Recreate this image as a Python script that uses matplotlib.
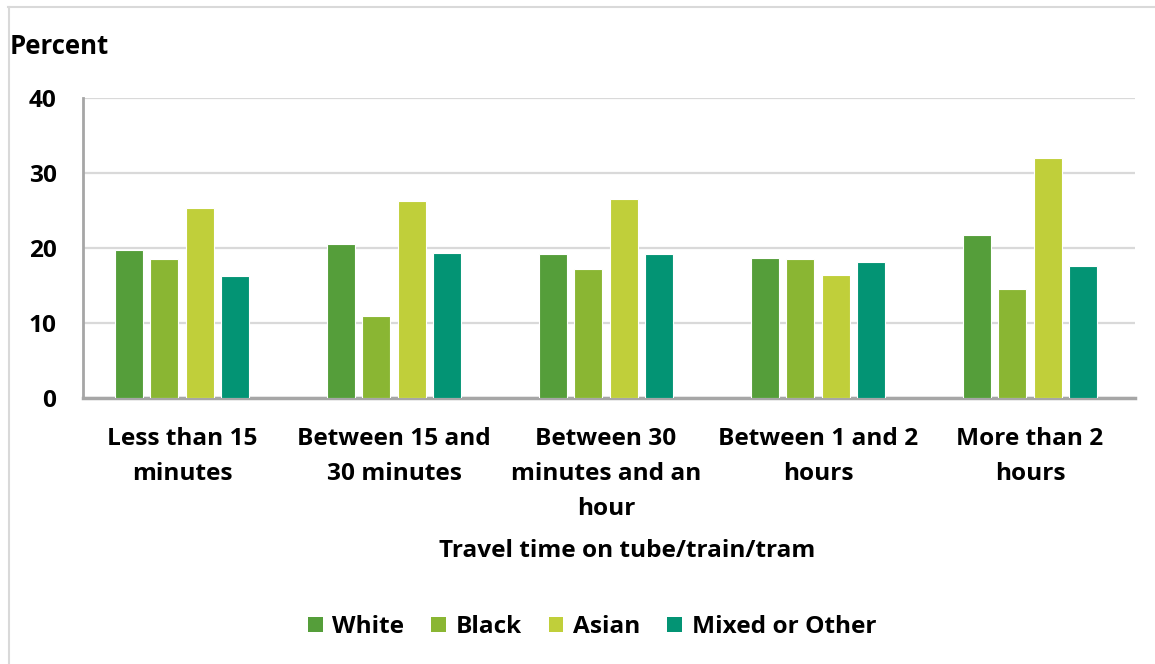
import matplotlib.pyplot as plt
import numpy as np
from matplotlib.lines import Line2D
from matplotlib.patches import Patch

plt.rcParams['font.family'] = ['Open Sans', 'DejaVu Sans']
plt.rcParams['font.weight'] = 'bold'

# data
categories = ['Less than 15\nminutes', 'Between 15 and\n30 minutes',
              'Between 30\nminutes and an\nhour', 'Between 1 and 2\nhours',
              'More than 2\nhours']
groups = ['White', 'Black', 'Asian', 'Mixed or Other']
white = [19.8, 20.6, 19.2, 18.7, 21.7]
black = [18.6, 11.0, 17.2, 18.6, 14.5]
asian = [25.3, 26.3, 26.5, 16.4, 32.0]
mixed = [16.3, 19.4, 19.2, 18.2, 17.6]
colors = ['#559E3A', '#8AB633', '#C0CF3A', '#039474']
y_ticks = [0, 10, 20, 30, 40]

series = [white, black, asian, mixed]
fs = 17.6

fig = plt.figure(figsize=(11.55, 6.64), dpi=100)
ax = fig.add_axes([83 / 1155, 1 - 398 / 664, (1135 - 83) / 1155, 300 / 664])

x = np.arange(len(categories))
step = 0.1675
width = 0.132
for i, (vals, col) in enumerate(zip(series, colors)):
    ax.bar(x + (i - 1.5) * step, vals, width, color=col, edgecolor='white',
           linewidth=0.8, label=groups[i], zorder=3)

ax.set_xlim(-0.467, 4.495)
ax.set_ylim(0, 40)
ax.set_yticks(y_ticks)
ax.set_xticks(x)
ax.set_xticklabels(categories, fontsize=fs, fontweight='bold', linespacing=1.6)
ax.tick_params(axis='x', length=0, pad=21)
ax.tick_params(axis='y', length=0, pad=19, labelsize=fs)
for lab in ax.get_yticklabels():
    lab.set_fontweight('bold')

ax.grid(axis='y', color='#D9D9D9', linewidth=1.6, zorder=0)
for side in ['top', 'right']:
    ax.spines[side].set_visible(False)
ax.spines['left'].set_color('#A6A6A6')
ax.spines['left'].set_linewidth(2)
ax.spines['bottom'].set_color('#A6A6A6')
ax.spines['bottom'].set_linewidth(2.5)

fig.text(10 / 1155, 1 - 46 / 664, 'Percent', fontsize=18.5, fontweight='bold',
         ha='left', va='center')
fig.text(627 / 1155, 1 - 551 / 664, 'Travel time on tube/train/tram',
         fontsize=fs, fontweight='bold', ha='center', va='center')

handles = [Patch(facecolor=c, edgecolor='none') for c in colors]
fig.legend(handles, groups, loc='center', bbox_to_anchor=(592 / 1155, 1 - 627 / 664),
           ncol=4, frameon=False, prop={'size': fs, 'weight': 'bold'},
           handlelength=0.6, handleheight=0.6, handletextpad=0.4, columnspacing=1.1)

# light frame around the chart area
fig.add_artist(Line2D([8 / 1155, 1], [1 - 7 / 664, 1 - 7 / 664],
                      transform=fig.transFigure, color='#D9D9D9', linewidth=1.5))
fig.add_artist(Line2D([9 / 1155, 9 / 1155], [0, 1 - 7 / 664],
                      transform=fig.transFigure, color='#D9D9D9', linewidth=1.5))

plt.savefig('out.png', dpi=100)
